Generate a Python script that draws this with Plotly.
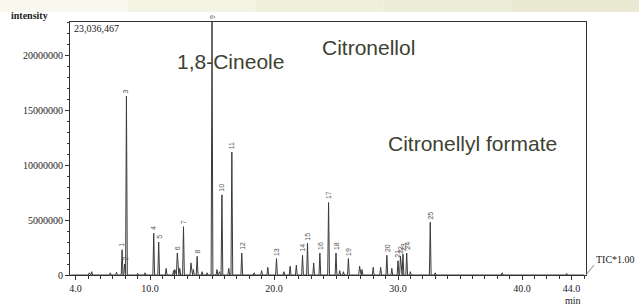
import plotly.graph_objects as go

# Numbered peaks: retention time (min), intensity, label
peak_t = [7.75, 7.95, 8.10, 10.3, 10.7, 12.2, 12.7, 13.8, 15.0, 15.8, 16.6, 17.4,
          20.2, 22.3, 22.7, 23.7, 24.4, 25.0, 26.0, 29.1, 30.0, 30.2, 30.4, 30.7, 32.6]
peak_h = [2.3e6, 1.0e6, 16.3e6, 3.8e6, 3.0e6, 2.0e6, 4.4e6, 1.7e6, 23036467, 7.3e6, 11.2e6, 2.0e6,
          1.5e6, 1.8e6, 2.9e6, 2.0e6, 6.6e6, 2.0e6, 1.5e6, 1.8e6, 1.3e6, 1.7e6, 1.9e6, 2.0e6, 4.8e6]
peak_lab = [str(i) for i in range(1, 26)]

# Unlabelled minor peaks
minor_t = [5.1, 5.3, 6.8, 7.3, 9.0, 9.6, 11.3, 11.9, 12.0, 12.4, 13.3, 13.5, 14.2, 14.6,
           15.4, 15.6, 16.35, 18.4, 19.0, 19.5, 20.8, 21.3, 21.8, 23.2, 25.3, 25.6,
           26.9, 27.1, 28.0, 28.6, 29.5, 31.0, 33.0, 38.4, 43.6]
minor_h = [0.2e6, 0.3e6, 0.2e6, 0.25e6, 0.15e6, 0.2e6, 0.6e6, 0.4e6, 0.5e6, 0.6e6, 1.1e6, 0.5e6, 0.3e6, 0.2e6,
           0.5e6, 0.3e6, 0.6e6, 0.2e6, 0.4e6, 0.7e6, 0.3e6, 0.8e6, 0.9e6, 1.1e6, 0.4e6, 0.3e6,
           0.8e6, 0.5e6, 0.7e6, 0.7e6, 0.6e6, 0.3e6, 0.2e6, 0.2e6, 0.15e6]

x_start, x_end = 3.6, 45.0
y_max = 23036467

compounds = ["1,8-Cineole", "Citronellol", "Citronellyl formate"]

# build chromatogram trace from the peak lists
w = 0.07
allp = sorted(zip(peak_t + minor_t, peak_h + minor_h))
xs, ys = [x_start], [0]
for t, h in allp:
    xs += [t - w, t, t + w]
    ys += [0, h, 0]
xs.append(x_end)
ys.append(0)

fig = go.Figure()
fig.add_trace(go.Scatter(x=xs, y=ys, mode="lines", line=dict(color="#3a3a3a", width=1),
                         hoverinfo="skip", showlegend=False))

serif = "Liberation Serif, Times New Roman, serif"
sans = "Liberation Sans, Arial, sans-serif"

for t, h, lab in zip(peak_t, peak_h, peak_lab):
    fig.add_annotation(x=t, y=min(h, y_max), text=lab, showarrow=False, textangle=-90,
                       xanchor="center", yanchor="bottom", yshift=1,
                       font=dict(family=sans, size=7, color="#555"))


def px_note(text, xp, yp, font, xanchor="center"):
    fig.add_annotation(xref="paper", yref="paper", x=(xp - 70) / 516, y=(275 - yp) / 253,
                       xanchor=xanchor, yanchor="middle", text=text, showarrow=False, font=font)


# compound names
txt_col = "#3d4230"
cfont = dict(family=sans, size=21, color=txt_col)
px_note(compounds[0], 230, 61, cfont)
px_note(compounds[1], 368, 47, cfont)
px_note(compounds[2], 472, 143, cfont)

# axis texts
sfont = dict(family=serif, size=10, color="#222")
px_note("<b>intensity</b>", 29, 16, sfont)
px_note("23,036,467", 72, 29, sfont, xanchor="left")
px_note("TIC*1.00", 594, 259, sfont, xanchor="left")
px_note("min", 573, 300, sfont)

shapes = [
    dict(type="line", xref="paper", yref="paper", x0=1, y0=0, x1=(594 - 70) / 516, y1=(275 - 265) / 253,
         line=dict(color="#888", width=1)),
]
# slide background band at top
band_cols = ["#f8f8ef", "#f3f4e4", "#eff0dc", "#ecedd6", "#e9ead1"]
for i, c in enumerate(band_cols):
    shapes.append(dict(type="rect", xref="paper", yref="paper", layer="below",
                       x0=(-70 + i * 639 / 5) / 516, x1=(-70 + (i + 1) * 639 / 5) / 516,
                       y0=(275 - 12) / 253, y1=(275 + 0) / 253,
                       line=dict(width=0), fillcolor=c))
fig.update_layout(shapes=shapes)

fig.update_xaxes(range=[3.548, 45.16], showgrid=False, zeroline=False,
                 showline=True, linecolor="#333", linewidth=1, mirror=True,
                 tickvals=[4, 10, 20, 30, 40, 44], ticktext=["4.0", "10.0", "20.0", "30.0", "40.0", "44.0"],
                 ticks="outside", ticklen=4, tickcolor="#333",
                 minor=dict(dtick=1, tick0=0, ticks="outside", ticklen=3, tickcolor="#333"),
                 tickfont=dict(family=serif, size=10, color="#222"))
fig.update_yaxes(range=[0, y_max], showgrid=False, zeroline=False,
                 showline=True, linecolor="#333", linewidth=1, mirror=True,
                 tickvals=[0, 5e6, 10e6, 15e6, 20e6], ticktext=["0", "5000000", "10000000", "15000000", "20000000"],
                 ticks="outside", ticklen=4, tickcolor="#333",
                 minor=dict(dtick=1e6, tick0=0, ticks="outside", ticklen=2, tickcolor="#333"),
                 tickfont=dict(family=serif, size=10, color="#222"))

fig.update_layout(width=639, height=307, margin=dict(l=70, r=53, t=22, b=32),
                  paper_bgcolor="white", plot_bgcolor="white")

fig.write_html("out.html", config={"displayModeBar": False},
               post_script="document.body.style.margin='0';document.body.style.overflow='hidden';")
